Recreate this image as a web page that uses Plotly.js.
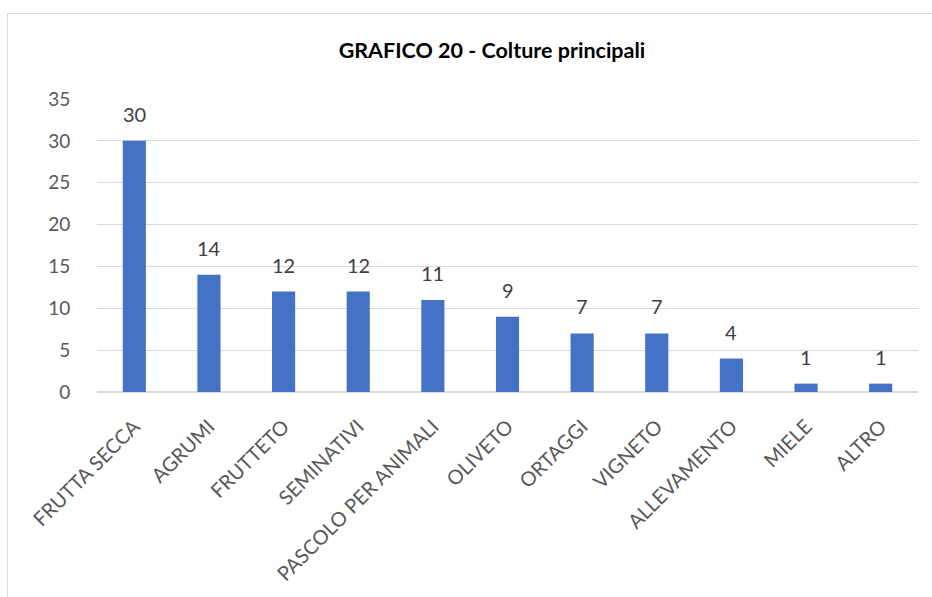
<!DOCTYPE html>
<html><head><meta charset="utf-8">
<script src="https://cdn.plot.ly/plotly-3.0.1.min.js"></script>
<style>body{margin:0;background:#fff}#chart{width:932px;height:597px}</style>
</head><body><div id="chart"></div>
<script>
const categories = ["FRUTTA SECCA","AGRUMI","FRUTTETO","SEMINATIVI","PASCOLO PER ANIMALI","OLIVETO","ORTAGGI","VIGNETO","ALLEVAMENTO","MIELE","ALTRO"];
const values = [30,14,12,12,11,9,7,7,4,1,1];
const yTicks = [0,5,10,15,20,25,30,35];

const trace = {
  type: 'bar', x: categories, y: values,
  marker: {color: '#4472C4'}, width: 0.31,
  hoverinfo: 'none'
};
const labels = categories.map((c, i) => ({
  x: c, y: values[i], xref: 'x', yref: 'y', text: String(values[i]),
  showarrow: false, yanchor: 'bottom', yshift: 13,
  font: {family: 'Lato, sans-serif', size: 20, color: '#404040'}
}));
const layout = {
  width: 932, height: 597,
  margin: {l: 97, r: 14, t: 99, b: 205, pad: 0},
  paper_bgcolor: '#fff', plot_bgcolor: '#fff',
  showlegend: false,
  title: {text: '<b>GRAFICO 20 - Colture principali</b>', x: 492/932, xanchor: 'center', y: 1 - 50/597, yanchor: 'middle',
    font: {family: 'Lato, sans-serif', size: 21.5, color: '#000'}},
  xaxis: {type: 'category', tickangle: -45, showgrid: false, zeroline: false, showline: false,
    ticks: 'outside', ticklen: 14, tickcolor: 'rgba(0,0,0,0)',
    tickfont: {family: 'Lato, sans-serif', size: 20, color: '#595959'}},
  yaxis: {range: [0, 35], tickvals: yTicks, ticktext: yTicks.map(String), showgrid: true, gridcolor: '#d9d9d9', gridwidth: 1,
    zeroline: true, zerolinecolor: '#d9d9d9', zerolinewidth: 1.5, showline: false, ticks: 'outside', ticklen: 22, tickcolor: 'rgba(0,0,0,0)',
    tickfont: {family: 'Lato, sans-serif', size: 19, color: '#595959'}},
  annotations: labels,
  shapes: [{type: 'rect', xref: 'paper', yref: 'paper', x0: (7.5-97)/821, x1: 1.2, y0: -1, y1: (392-13.5)/293,
    line: {color: '#d9d9d9', width: 1}, fillcolor: 'rgba(0,0,0,0)', layer: 'below'}]
};
Plotly.newPlot('chart', [trace], layout, {displayModeBar: false, staticPlot: true});
</script></body></html>
